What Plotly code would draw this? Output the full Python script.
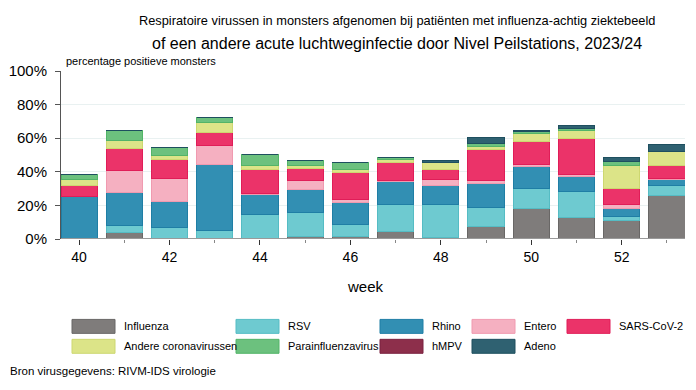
import plotly.graph_objects as go

weeks = [40, 41, 42, 43, 44, 45, 46, 47, 48, 49, 50, 51, 52, 53]
tick_vals = [40, 42, 44, 46, 48, 50, 52]
tick_text = ["40", "42", "44", "46", "48", "50", "52"]

influenza = [0.0, 3.8, 0.0, 0.0, 0.0, 1.4, 1.4, 4.4, 1.0, 7.3, 18.0, 12.7, 11.1, 25.7]
rsv = [0.0, 4.5, 6.7, 5.1, 14.3, 14.4, 7.1, 16.0, 19.4, 11.5, 12.1, 15.6, 2.4, 6.0]
rhino = [25.3, 19.6, 15.7, 39.1, 12.4, 13.5, 13.1, 14.1, 11.3, 14.1, 12.9, 8.7, 4.5, 3.9]
entero = [0.0, 13.1, 13.6, 11.2, 0.3, 5.6, 2.0, 0.5, 3.7, 1.8, 1.4, 1.6, 2.4, 0.3]
sars = [6.4, 12.9, 11.3, 8.2, 14.5, 6.9, 16.0, 10.7, 6.2, 18.4, 13.6, 21.0, 9.5, 8.0]
andere_corona = [3.5, 4.5, 2.2, 5.7, 2.4, 1.8, 1.6, 1.4, 3.9, 1.9, 4.8, 5.2, 14.1, 8.1]
parainfluenza = [3.2, 6.4, 4.8, 2.8, 6.3, 3.3, 4.1, 1.6, 0.0, 1.6, 1.0, 1.1, 2.1, 0.3]
hmpv = [0.0, 0.0, 0.0, 0.0, 0.0, 0.0, 0.0, 0.0, 0.3, 0.0, 0.0, 0.0, 0.0, 0.0]
adeno = [0.0, 0.0, 0.0, 0.0, 0.0, 0.0, 0.0, 0.0, 1.1, 3.6, 1.0, 1.4, 2.6, 4.0]

series = [
    ("Influenza", influenza, "#7f7c7b", "#696766"),
    ("RSV", rsv, "#6ecad0", "#55bcc4"),
    ("Rhino", rhino, "#328fb3", "#1f7ea5"),
    ("Entero", entero, "#f5b0c1", "#f09ab0"),
    ("SARS-CoV-2", sars, "#eb3369", "#e01d58"),
    ("Andere coronavirussen", andere_corona, "#dce488", "#cdd770"),
    ("Parainfluenzavirus", parainfluenza, "#6cc17e", "#52b468"),
    ("hMPV", hmpv, "#8d2f4b", "#7a2240"),
    ("Adeno", adeno, "#2f6171", "#1e4f5f"),
]

FONT = "Arial, Liberation Sans, sans-serif"
OFF = 8  # page body margin
W, H = 696 - OFF, 390 - OFF
# plot area in page pixels
L, R, T, B = 61, 685, 70.7, 239.3

fig = go.Figure()
for name, vals, fill, line in series:
    fig.add_trace(go.Bar(
        x=weeks, y=vals, name=name, width=0.8,
        marker=dict(color=fill, line=dict(color=line, width=1)),
        showlegend=False,
    ))


def px(x):
    return (x - L) / (R - L)


def py(y):
    return (B - y) / (B - T)


shapes = []
annotations = []

# custom legend
legend_cols = [72, 236, 380, 472, 567]
legend_rows = [327, 347]
for i, (name, vals, fill, line) in enumerate(series):
    r, c = divmod(i, 5)
    x0 = legend_cols[c]
    yc = legend_rows[r]
    shapes.append(dict(type="rect", xref="paper", yref="paper",
                       x0=px(x0), x1=px(x0 + 43), y0=py(yc + 7), y1=py(yc - 7),
                       fillcolor=fill, line=dict(color=line, width=1)))
    annotations.append(dict(xref="paper", yref="paper", x=px(x0 + 50), y=py(yc),
                            text=name, showarrow=False, xanchor="left", yanchor="middle",
                            font=dict(family=FONT, size=11, color="#000")))

annotations += [
    dict(xref="paper", yref="paper", x=px(397), y=py(20), text="Respiratoire virussen in monsters afgenomen bij patiënten met influenza-achtig ziektebeeld",
         showarrow=False, xanchor="center", yanchor="middle", font=dict(family=FONT, size=12.8, color="#000")),
    dict(xref="paper", yref="paper", x=px(397), y=py(43), text="of een andere acute luchtweginfectie door Nivel Peilstations, 2023/24",
         showarrow=False, xanchor="center", yanchor="middle", font=dict(family=FONT, size=16, color="#000")),
    dict(xref="paper", yref="paper", x=px(64), y=py(61), text="percentage positieve monsters",
         showarrow=False, xanchor="left", yanchor="middle", font=dict(family=FONT, size=11, color="#000")),
    dict(xref="paper", yref="paper", x=px(365), y=py(287), text="week",
         showarrow=False, xanchor="center", yanchor="middle", font=dict(family=FONT, size=15, color="#000")),
    dict(xref="paper", yref="paper", x=px(8), y=py(372), text="Bron virusgegevens: RIVM-IDS virologie",
         showarrow=False, xanchor="left", yanchor="middle", font=dict(family=FONT, size=11.5, color="#000")),
]

# baseline
shapes.append(dict(type="line", xref="paper", yref="y", x0=0, x1=1, y0=0, y1=0,
                   line=dict(color="#9a9a9a", width=2), layer="above"))

fig.update_layout(
    width=W, height=H,
    margin=dict(l=L - OFF, r=696 - R, t=T - OFF, b=390 - B, autoexpand=False),
    paper_bgcolor="white", plot_bgcolor="white",
    barmode="stack",
    font=dict(family=FONT, color="#000"),
    shapes=shapes, annotations=annotations,
    xaxis=dict(range=[39.6, 53.4], tickmode="array", tickvals=tick_vals, ticktext=tick_text,
               automargin=False,
               ticks="outside", ticklen=5, tickcolor="#333", tickwidth=1,
               minor=dict(tickmode="array", tickvals=[41, 43, 45, 47, 49, 51, 53], ticks="outside", ticklen=3, tickcolor="#888"),
               showgrid=False, zeroline=False, showline=False,
               tickfont=dict(family=FONT, size=14, color="#000")),
    yaxis=dict(range=[0, 100], tickvals=[0, 20, 40, 60, 80, 100],
               ticktext=["0%", "20%", "40%", "60%", "80%", "100%"],
               automargin=False,
               ticks="outside", ticklen=5, tickcolor="#555",
               showline=True, linecolor="#555", linewidth=1,
               showgrid=True, gridcolor="#e9f1f1", gridwidth=1, zeroline=False,
               ticklabelstandoff=5,
               tickfont=dict(family=FONT, size=15, color="#000")),
)

fig.write_html("out.html")
